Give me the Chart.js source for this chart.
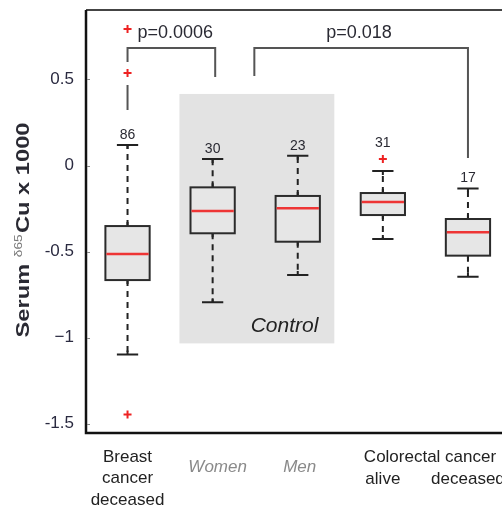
<!DOCTYPE html>
<html lang="en">
<head>
  <meta charset="UTF-8" />
  <title>Serum d65Cu box plot</title>
  <script src="https://cdn.jsdelivr.net/npm/chart.js"></script>
  <style>
    body { margin: 0; background: #fff; overflow: hidden; }
    canvas { display: block; }
  </style>
</head>
<body>

<canvas id="mainChart" width="502" height="508"></canvas>

<script>
  // groups along x (positions 1..5)
  const groups = ["Breast cancer deceased", "Women", "Men", "Colorectal alive", "Colorectal deceased"];
  const counts = [86, 30, 23, 31, 17];
  const whiskerHigh = [0.119, 0.038, 0.057, -0.032, -0.133];
  const q3 = [-0.352, -0.127, -0.177, -0.160, -0.311];
  const medians = [-0.514, -0.265, -0.249, -0.212, -0.388];
  const q1 = [-0.666, -0.394, -0.443, -0.288, -0.524];
  const whiskerLow = [-1.098, -0.795, -0.637, -0.427, -0.647];
  const outlierX = [1, 1, 1, 4];
  const outlierY = [0.794, 0.538, -1.447, 0.038];
  const yTicks = [0.5, 0, -0.5, -1, -1.5];
  const yTickLabels = ["0.5", "0", "-0.5", "\u22121", "-1.5"];
  const pLabels = ["p=0.0006", "p=0.018"];

  const FONT = "'Liberation Sans', Arial, sans-serif";
  const INK = "#2a2a33";

  function px(s, v) { return s.getPixelForValue(v); }

  const boxPlugin = {
    id: "boxes",
    beforeDatasetsDraw(chart) {
      const { ctx, scales: { x, y } } = chart;
      ctx.save();

      // control band
      const cl = px(x, 1.61), cr = px(x, 3.43);
      const ct = px(y, 0.416), cb = px(y, -1.034);
      ctx.fillStyle = "#e3e3e3";
      ctx.fillRect(cl, ct, cr - cl, cb - ct);
      ctx.font = "italic 21px " + FONT;
      ctx.fillStyle = "#222";
      ctx.textAlign = "right";
      ctx.textBaseline = "alphabetic";
      ctx.fillText("Control", cr - 16, cb - 11);

      const half = 0.26, capHalf = 0.125;
      groups.forEach((g, i) => {
        const cx = px(x, i + 1);
        const bl = px(x, i + 1 - half), br = px(x, i + 1 + half);
        const cpl = px(x, i + 1 - capHalf), cpr = px(x, i + 1 + capHalf);
        const yHi = px(y, whiskerHigh[i]), yQ3 = px(y, q3[i]);
        const yMed = px(y, medians[i]), yQ1 = px(y, q1[i]), yLo = px(y, whiskerLow[i]);

        // whiskers
        ctx.strokeStyle = "#222";
        ctx.lineWidth = 2;
        ctx.setLineDash([6, 5]);
        ctx.beginPath();
        ctx.moveTo(cx, yQ3); ctx.lineTo(cx, yHi);
        ctx.moveTo(cx, yQ1); ctx.lineTo(cx, yLo);
        ctx.stroke();
        ctx.setLineDash([]);
        ctx.beginPath();
        ctx.moveTo(cpl, yHi); ctx.lineTo(cpr, yHi);
        ctx.moveTo(cpl, yLo); ctx.lineTo(cpr, yLo);
        ctx.moveTo(cx, yHi); ctx.lineTo(cx, yHi + 4);
        ctx.moveTo(cx, yLo); ctx.lineTo(cx, yLo - 4);
        ctx.moveTo(cx, yQ3); ctx.lineTo(cx, yQ3 - 4);
        ctx.moveTo(cx, yQ1); ctx.lineTo(cx, yQ1 + 4);
        ctx.stroke();

        // box
        ctx.fillStyle = "#e6e6e6";
        ctx.fillRect(bl, yQ3, br - bl, yQ1 - yQ3);
        ctx.strokeStyle = "#2b2b2b";
        ctx.strokeRect(bl, yQ3, br - bl, yQ1 - yQ3);

        // median
        ctx.strokeStyle = "#ee3535";
        ctx.lineWidth = 2.5;
        ctx.beginPath();
        ctx.moveTo(bl + 1, yMed); ctx.lineTo(br - 1, yMed);
        ctx.stroke();

        // count label
        let top = yHi;
        outlierY.forEach((v, k) => {
          const py = px(y, v);
          if (outlierX[k] === i + 1 && py < yHi && py > yHi - 25) top = py - 6;
        });
        ctx.font = "14px " + FONT;
        ctx.fillStyle = INK;
        ctx.textAlign = "center";
        ctx.textBaseline = "middle";
        ctx.fillText(String(counts[i]), cx, top - 10);
      });
      ctx.restore();
    },
    afterDraw(chart) {
      const { ctx, chartArea: a, scales: { x, y } } = chart;
      ctx.save();

      // frame
      ctx.strokeStyle = "#444";
      ctx.lineWidth = 2;
      ctx.beginPath();
      ctx.moveTo(a.left, a.top); ctx.lineTo(a.right, a.top);
      ctx.stroke();
      ctx.strokeStyle = "#111";
      ctx.lineWidth = 2.5;
      ctx.beginPath();
      ctx.moveTo(a.left, a.top); ctx.lineTo(a.left, a.bottom); ctx.lineTo(a.right, a.bottom);
      ctx.stroke();
      ctx.strokeStyle = "#888";
      ctx.lineWidth = 1;
      ctx.beginPath();
      yTicks.forEach(v => {
        const ty = Math.round(px(y, v)) + 0.5;
        ctx.moveTo(a.left + 1, ty); ctx.lineTo(a.left + 4, ty);
      });
      ctx.stroke();

      // significance brackets (first left leg is broken around the outlier)
      const brY = px(y, 0.683);
      ctx.strokeStyle = "#555";
      ctx.lineWidth = 2;
      ctx.beginPath();
      ctx.moveTo(px(x, 1.0), px(y, 0.323)); ctx.lineTo(px(x, 1.0), px(y, 0.468));
      ctx.moveTo(px(x, 1.0), px(y, 0.602)); ctx.lineTo(px(x, 1.0), brY);
      ctx.lineTo(px(x, 2.03), brY); ctx.lineTo(px(x, 2.03), px(y, 0.515));
      ctx.moveTo(px(x, 2.49), px(y, 0.52)); ctx.lineTo(px(x, 2.49), brY);
      ctx.lineTo(px(x, 5.0), brY); ctx.lineTo(px(x, 5.0), px(y, 0.044));
      ctx.stroke();
      const textX = [1.56, 3.72];
      ctx.font = "18px " + FONT;
      ctx.fillStyle = INK;
      ctx.textAlign = "center";
      ctx.textBaseline = "middle";
      pLabels.forEach((t, i) => ctx.fillText(t, px(x, textX[i]), brY - 15));

      // x category labels
      ctx.font = "17px " + FONT;
      ctx.fillStyle = "#222";
      ["Breast", "cancer", "deceased"].forEach((t, k) => {
        ctx.fillText(t, px(x, 1), 457 + k * 21.5);
      });
      ctx.textAlign = "left";
      ctx.fillText("Colorectal cancer", px(x, 4) - 19, 457);
      ctx.textAlign = "center";
      ctx.fillText("alive", px(x, 4), 479);
      ctx.fillText("deceased", px(x, 5), 479);
      ctx.font = "italic 17px " + FONT;
      ctx.fillStyle = "#8a8a8a";
      ctx.fillText("Women", px(x, 2) + 5, 467);
      ctx.fillText("Men", px(x, 3) + 2, 467);

      // y axis title with superscript
      ctx.translate(24, 230);
      ctx.rotate(-Math.PI / 2);
      const big = "bold 19px " + FONT, small = "11px " + FONT;
      ctx.font = big;
      const w1 = ctx.measureText("Serum ").width;
      const w3 = ctx.measureText("Cu x 1000").width;
      ctx.font = small;
      const w2 = ctx.measureText("\u03b465").width + 1;
      const total = w1 + w2 + w3;
      ctx.scale(215 / total, 1);
      let sx = -total / 2;
      ctx.textAlign = "left";
      ctx.textBaseline = "middle";
      ctx.fillStyle = INK;
      ctx.font = big;
      ctx.fillText("Serum ", sx, 0);
      sx += w1;
      ctx.font = small;
      ctx.fillStyle = "#777";
      ctx.fillText("\u03b465", sx, -5);
      sx += w2;
      ctx.font = big;
      ctx.fillStyle = INK;
      ctx.fillText("Cu x 1000", sx, 0);
      ctx.restore();
    }
  };

  const outlierPoints = outlierX.map((v, i) => ({ x: v, y: outlierY[i] }));

  new Chart(document.getElementById("mainChart").getContext("2d"), {
    type: "scatter",
    data: {
      datasets: [{
        label: "outliers",
        data: outlierPoints,
        pointStyle: "cross",
        radius: 4,
        borderColor: "#ee2222",
        borderWidth: 2
      }]
    },
    options: {
      responsive: false,
      animation: false,
      layout: { autoPadding: false, padding: { top: 10, bottom: 75, left: 0, right: 0 } },
      plugins: { legend: { display: false }, tooltip: { enabled: false } },
      scales: {
        x: { type: "linear", display: false, min: 0.512, max: 5.4 },
        y: {
          type: "linear",
          min: -1.555,
          max: 0.904,
          grid: { display: false, drawTicks: false },
          border: { display: false },
          afterFit: s => { s.width = 86; s.paddingTop = 0; s.paddingBottom = 0; },
          afterBuildTicks: s => { s.ticks = yTicks.map(v => ({ value: v })); },
          ticks: {
            padding: 12,
            color: "#2a2a40",
            font: { family: FONT, size: 17 },
            callback: v => yTickLabels[yTicks.indexOf(v)]
          }
        }
      }
    },
    plugins: [boxPlugin]
  });
</script>
</body>
</html>
